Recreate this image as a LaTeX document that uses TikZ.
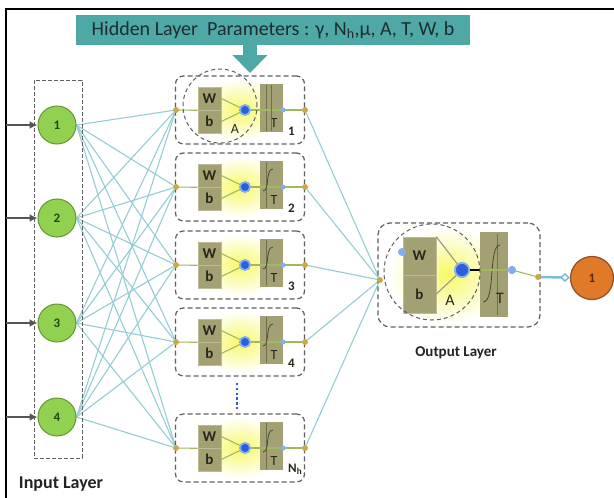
\documentclass[tikz,border=0pt]{standalone}
\usepackage{fontspec}
\setmainfont{Carlito}
\usetikzlibrary{arrows.meta,calc}
\definecolor{bannerteal}{RGB}{77,168,166}
\definecolor{conncol}{RGB}{150,205,212}
\definecolor{greenfill}{RGB}{146,208,80}
\definecolor{greenedge}{RGB}{100,150,55}
\definecolor{orangefill}{RGB}{224,122,40}
\definecolor{orangeedge}{RGB}{140,80,35}
\definecolor{olivefill}{RGB}{163,160,116}
\definecolor{olivetext}{RGB}{40,40,25}
\definecolor{dotcol}{RGB}{205,168,70}
\definecolor{sumblue}{RGB}{45,95,215}
\definecolor{sumring}{RGB}{130,175,240}
\definecolor{glowy}{RGB}{248,248,105}
\definecolor{innerline}{RGB}{160,185,95}
\definecolor{dashgray}{RGB}{95,95,95}
\definecolor{outarrow}{RGB}{120,190,212}
\pgfdeclarelayer{back}
\pgfdeclarelayer{bg}
\pgfsetlayers{back,bg,main}
\tikzset{
  conn/.style={draw=conncol, line width=1.1pt},
  innode/.style={circle, fill=greenfill, draw=greenedge, line width=1pt, minimum size=38pt, inner sep=0pt, font=\fontsize{13}{13}\selectfont\bfseries, text={rgb,255:red,40;green,70;blue,20}},
  inarrow/.style={draw={rgb,255:red,85;green,85;blue,85}, line width=1.8pt, -{Latex[length=8pt,width=8pt]}},
  hbox/.style={rectangle, draw=dashgray, dash pattern=on 5pt off 3pt, line width=1.2pt, rounded corners=8pt, minimum width=129pt, minimum height=68pt, inner sep=0pt},
  wbrect/.style={rectangle, fill=olivefill, draw={rgb,255:red,190;green,188;blue,150}, line width=0.6pt, inner sep=0pt, font=\fontsize{15}{15}\selectfont\bfseries, text=olivetext},
  trect/.style={rectangle, fill=olivefill, inner sep=0pt},
  sumnode/.style={circle, fill=sumblue, draw=sumring, line width=1.6pt, minimum size=10pt, inner sep=0pt},
  bdot/.style={circle, fill=sumring, minimum size=5pt, inner sep=0pt},
  tdot/.style={circle, fill=dotcol, minimum size=6pt, inner sep=0pt},
  inl/.style={draw=innerline, line width=1.1pt},
  sig/.style={draw={rgb,255:red,70;green,75;blue,45}, line width=0.8pt},
  tline/.style={draw={rgb,255:red,110;green,110;blue,80}, line width=0.7pt},
  lbl/.style={inner sep=0pt, text=olivetext},
}
\newcommand\hunit[3]{%
  \shade[inner color=glowy, outer color=white] (240,#2) ellipse [x radius=44pt, y radius=31pt];
  \node[hbox] (hbox#1) at (240,#2) {};
  \node[wbrect, minimum width=23pt, minimum height=23pt] (hw#1) at (209.5,#2-11.5) {W};
  \node[wbrect, minimum width=23pt, minimum height=23pt] (hb#1) at (209.5,#2+11.5) {b};
  \node[trect, minimum width=23pt, minimum height=48pt] (ht#1) at (271.5,#2-2) {};
  \draw[tline] (266,#2-25) -- (266,#2+21);
  \node[tdot] (hl#1) at (176,#2) {};
  \node[tdot] (hr#1) at (305,#2) {};
  \node[sumnode] (hs#1) at (245,#2) {};
  \draw[inl] (hl#1) -- (hw#1.south west);
  \draw[inl] (hw#1.east) -- (hs#1);
  \draw[inl] (hb#1.east) -- (hs#1);
  \draw[inl] (hs#1) -- (hr#1);
  \node[sumnode] at (hs#1) {};
  \node[bdot] (hq#1) at (283,#2) {};
  \node[lbl, font=\fontsize{14}{14}\selectfont] (htl#1) at (274,#2+13) {T};
  \node[lbl, font=\fontsize{13}{13}\selectfont\bfseries, anchor=west] (hn#1) at (288,#2+21) {#3};
}
\begin{document}
\begin{tikzpicture}[x=1pt,y=-1pt]
\useasboundingbox (0,0) rectangle (614,498);
\begin{pgfonlayer}{back}
\fill[white] (0,0) rectangle (614,498);
\end{pgfonlayer}
% frame
\draw[line width=2pt] (6,498) -- (6,9) -- (614,9);
% banner
\node[rectangle, fill=bannerteal, minimum width=394pt, minimum height=30pt, inner sep=0pt,
      font=\fontsize{20}{20}\selectfont, text={rgb,255:red,30;green,45;blue,45}] (ban) at (273,30)
      {Hidden Layer\ \ Parameters : γ, N\textsubscript{h},μ, A, T, W, b};
\coordinate (ba) at (250,44);
\coordinate (bb) at (250,73);
\draw[bannerteal, line width=14pt, -{Triangle[length=18pt,width=34pt]}] (ba) -- (bb);
% input layer
\node[rectangle, draw=dashgray, dash pattern=on 4pt off 2pt, line width=0.9pt, minimum width=48pt, minimum height=378pt, inner sep=0pt] (ibox) at (58,269) {};
\node[innode] (in1) at (57,125) {1};
\node[innode] (in2) at (57,218) {2};
\node[innode] (in3) at (57,323) {3};
\node[innode] (in4) at (57,417) {4};
\foreach \i/\y in {1/125,2/218,3/323,4/417}{
  \coordinate (s\i) at (6,\y);
  \draw[inarrow] (s\i) -- (in\i);
}
\node[lbl, font=\fontsize{18}{18}\selectfont\bfseries, text={rgb,255:red,35;green,35;blue,35}] (ilab) at (61,484) {Input Layer};
% hidden units
\hunit{1}{110}{1}
\hunit{2}{187}{2}
\hunit{3}{265}{3}
\hunit{4}{342}{4}
\hunit{5}{448}{N\textsubscript{h}}
\draw[tline] (271,85) -- (271,131);
\foreach \j/\y in {2/187,3/265,4/342,5/448}{
  \draw[sig] (263,\y+4) .. controls (270,\y+4) and (265,\y-18) .. (273,\y-18);
}
\node[circle, draw=dashgray, dash pattern=on 4pt off 3pt, line width=1pt, minimum width=74pt, minimum height=72pt, inner sep=0pt] (hcirc) at (220,106) {};
\node[lbl, font=\fontsize{14}{14}\selectfont] (ha) at (235,129) {A};
\coordinate (d1) at (237,383);
\coordinate (d2) at (237,410);
\draw[draw=sumblue, line width=2.4pt, dash pattern=on 2.4pt off 2.4pt] (d1) -- (d2);
% output unit
\shade[inner color=glowy, outer color=white] (448,275) ellipse [x radius=60pt, y radius=48pt];
\node[rectangle, draw=dashgray, dash pattern=on 5pt off 3pt, line width=1.2pt, rounded corners=12pt, minimum width=162pt, minimum height=104pt, inner sep=0pt] (obox) at (459,275) {};
\node[wbrect, minimum width=33pt, minimum height=38pt] (ow) at (419.5,256) {W};
\node[wbrect, minimum width=33pt, minimum height=38pt] (ob) at (419.5,294) {b};
\node[trect, minimum width=28pt, minimum height=85pt] (ot) at (494,274.5) {};
\draw[tline] (497,234) -- (497,315);
\draw[sig] (483,302) .. controls (496,302) and (488,245) .. (500,245);
\node[tdot] (ol) at (380,280) {};
\node[tdot] (or) at (538,277) {};
\node[sumnode, minimum size=14pt] (os) at (462,270) {};
\node[bdot, minimum size=8pt] (oq2) at (512,270) {};
\node[bdot, minimum size=8pt] (oq1) at (402,252) {};
\draw[inl, draw={rgb,255:red,150;green,150;blue,130}] (ow.north east) -- (os);
\draw[inl, draw={rgb,255:red,150;green,150;blue,130}] (ob.east) -- (os);
\coordinate (otl) at (480,270);
\draw[line width=2pt] (os) -- (otl);
\draw[inl] (otl) -- (oq2);
\draw[inl] (oq2) -- (or);
\node[sumnode, minimum size=14pt] at (os) {};
\node[bdot, minimum size=8pt] at (oq2) {};
\node[circle, draw=dashgray, dash pattern=on 4pt off 3pt, line width=1pt, minimum size=96pt, inner sep=0pt] (ocirc) at (432,272) {};
\node[lbl, font=\fontsize{16}{16}\selectfont] (oa) at (450,300) {A};
\node[lbl, font=\fontsize{16}{16}\selectfont] (ott) at (500,298) {T};
\node[lbl, font=\fontsize{15}{15}\selectfont\bfseries, text={rgb,255:red,35;green,35;blue,35}] (olab) at (456,353) {Output Layer};
% output node
\node[circle, fill=orangefill, draw=orangeedge, line width=1.2pt, minimum size=43pt, inner sep=0pt, font=\fontsize{13}{13}\selectfont\bfseries, text={rgb,255:red,90;green,40;blue,10}] (out) at (592,278) {1};
\draw[draw=outarrow, line width=2.5pt, -{Diamond[open, length=10pt, width=9pt, line width=1.5pt]}] (or) -- (out);
% connections
\begin{pgfonlayer}{bg}
\foreach \i in {1,...,4}{
  \foreach \j in {1,...,5}{
    \draw[conn] (in\i.east) -- (hl\j);
  }
}
\foreach \j in {1,...,5}{
  \draw[conn] (hr\j) -- (ol);
}
\end{pgfonlayer}
\end{tikzpicture}
\end{document}
